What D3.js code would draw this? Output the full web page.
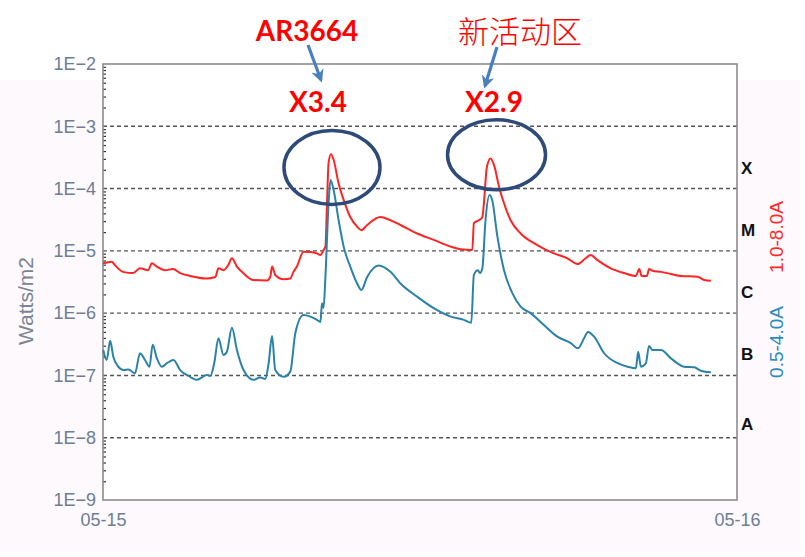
<!DOCTYPE html>
<html>
<head>
<meta charset="utf-8">
<script src="https://cdn.jsdelivr.net/npm/d3@7/dist/d3.min.js"></script>
<style>
  html, body { margin: 0; padding: 0; background: #ffffff; }
  svg { display: block; }
</style>
</head>
<body>
<svg id="chart" width="805" height="557"></svg>
<script>
// ---------- data (hours after 05-15 00:00, flux in W/m2) ----------
const xTickLabels = ["05-15", "05-16"];
const xTickHours = [0, 24];
const yTickValues = [1e-9, 1e-8, 1e-7, 1e-6, 1e-5, 1e-4, 1e-3, 1e-2];
const yTickLabels = ["1E−9", "1E−8", "1E−7", "1E−6", "1E−5", "1E−4", "1E−3", "1E−2"];
const classLabels = ["A", "B", "C", "M", "X"];
const classLevels = [1e-8, 1e-7, 1e-6, 1e-5, 1e-4];
const seriesNames = ["1.0-8.0A", "0.5-4.0A"];

const redHours = [0.0, 0.33, 0.45, 0.76, 1.14, 1.40, 1.71, 1.85, 2.04, 2.35, 2.65, 2.92, 3.30, 3.93, 4.25, 4.37, 4.56, 4.74, 4.88, 5.07, 5.31, 5.69, 6.21, 6.33, 6.40, 6.52, 6.84, 7.09, 7.21, 7.34, 7.59, 7.85, 8.10, 8.23, 8.35, 8.42, 8.48, 8.54, 8.63, 8.73, 8.92, 9.11, 9.36, 9.62, 9.78, 10.00, 10.50, 10.88, 11.26, 11.89, 12.52, 13.16, 13.54, 13.98, 14.04, 14.23, 14.36, 14.42, 14.53, 14.67, 14.82, 14.99, 15.18, 15.43, 15.81, 16.44, 17.07, 17.58, 17.96, 18.27, 18.46, 18.72, 19.22, 19.73, 20.17, 20.30, 20.39, 20.59, 20.67, 20.80, 21.12, 21.50, 21.88, 22.51, 22.76, 23.01];
const redFlux = [6.3e-6, 6.7e-6, 5.9e-6, 4.6e-6, 4.4e-6, 5.25e-6, 4.9e-6, 6.3e-6, 5.6e-6, 4.9e-6, 5.1e-6, 4.4e-6, 3.95e-6, 3.6e-6, 3.8e-6, 5.25e-6, 4.9e-6, 5.9e-6, 7.6e-6, 5.6e-6, 4.4e-6, 3.4e-6, 3.35e-6, 3.8e-6, 5.6e-6, 4.1e-6, 3.5e-6, 3.6e-6, 4.6e-6, 5.6e-6, 9.7e-6, 9.6e-6, 9.1e-6, 8.6e-6, 1.03e-5, 1.17e-5, 5.9e-5, 2.6e-4, 3.55e-4, 2.9e-4, 1.2e-4, 6.6e-5, 3.5e-5, 2.45e-5, 2.15e-5, 2.6e-5, 3.5e-5, 3.1e-5, 2.6e-5, 1.9e-5, 1.5e-5, 1.17e-5, 1.06e-5, 1.03e-5, 2.8e-5, 3.1e-5, 3.45e-5, 5.9e-5, 2.2e-4, 3.05e-4, 2.25e-4, 1.07e-4, 5.8e-5, 3.1e-5, 1.9e-5, 1.24e-5, 9.1e-6, 7.6e-6, 6.15e-6, 7.6e-6, 8.6e-6, 7.1e-6, 5.25e-6, 4.4e-6, 3.95e-6, 5.1e-6, 3.95e-6, 3.95e-6, 5.1e-6, 4.8e-6, 4.6e-6, 4.25e-6, 3.95e-6, 3.85e-6, 3.4e-6, 3.3e-6];

const blueHours = [0.01, 0.14, 0.27, 0.39, 0.58, 0.77, 0.96, 1.21, 1.40, 1.59, 1.76, 1.88, 2.04, 2.23, 2.42, 2.67, 2.92, 3.30, 3.55, 3.93, 4.06, 4.21, 4.37, 4.56, 4.69, 4.88, 5.07, 5.32, 5.70, 5.95, 6.14, 6.27, 6.40, 6.52, 6.84, 7.09, 7.28, 7.59, 7.85, 8.10, 8.23, 8.29, 8.35, 8.42, 8.54, 8.61, 8.73, 8.92, 9.11, 9.36, 9.62, 9.78, 10.00, 10.44, 10.88, 11.26, 11.89, 12.52, 13.16, 13.66, 13.94, 14.04, 14.19, 14.27, 14.36, 14.48, 14.63, 14.73, 14.93, 15.18, 15.50, 15.81, 16.19, 16.69, 17.20, 17.71, 17.98, 18.21, 18.36, 18.59, 18.97, 19.48, 19.86, 20.17, 20.26, 20.36, 20.55, 20.67, 20.80, 21.12, 21.50, 22.00, 22.38, 22.63, 23.01];
const blueFlux = [2.56e-7, 1.77e-7, 3.6e-7, 2.0e-7, 1.38e-7, 1.22e-7, 1.25e-7, 1.08e-7, 2.27e-7, 1.77e-7, 1.38e-7, 3.1e-7, 1.88e-7, 1.38e-7, 1.57e-7, 1.77e-7, 1.22e-7, 9.5e-8, 8.5e-8, 1.02e-7, 9.8e-8, 1.57e-7, 3.95e-7, 2.13e-7, 2.4e-7, 5.85e-7, 2.56e-7, 1.22e-7, 8.5e-8, 9.3e-8, 8.8e-8, 1.57e-7, 4.3e-7, 1.22e-7, 9.5e-8, 1.15e-7, 4.75e-7, 9.3e-7, 8.8e-7, 7.8e-7, 7.2e-7, 1.44e-6, 1.21e-6, 3.85e-6, 5.9e-5, 1.37e-4, 9.5e-5, 3.1e-5, 1.17e-5, 5.6e-6, 3.0e-6, 2.35e-6, 3.8e-6, 5.8e-6, 4.6e-6, 3.0e-6, 1.84e-6, 1.2e-6, 8.8e-7, 7.8e-7, 7.0e-7, 4.1e-6, 4.9e-6, 4.4e-6, 5.25e-6, 3.1e-5, 7.9e-5, 6.6e-5, 1.69e-5, 4.9e-6, 2.08e-6, 1.27e-6, 1.0e-6, 6.45e-7, 4.2e-7, 3.3e-7, 2.73e-7, 3.95e-7, 5.0e-7, 4.2e-7, 2.27e-7, 1.57e-7, 1.38e-7, 1.3e-7, 2.4e-7, 1.38e-7, 1.57e-7, 2.97e-7, 2.56e-7, 2.56e-7, 1.88e-7, 1.38e-7, 1.35e-7, 1.19e-7, 1.12e-7];

// annotations
const flareNames = ["AR3664", "新活动区"];
const flareLabels = ["X3.4", "X2.9"];
const flarePeakHours = [8.63, 14.67];
const flarePeakFlux = [3.4e-4, 2.9e-4];

// ---------- drawing ----------
const W = 805, H = 557;
const margin = { left: 103, right: 68, top: 64, bottom: 57 };
const svg = d3.select("#chart");

// background
svg.append("rect").attr("x", 0).attr("y", 0).attr("width", W).attr("height", H).attr("fill", "#ffffff");
svg.append("rect").attr("x", 0).attr("y", 80).attr("width", 801).attr("height", 472).attr("fill", "#fdf9fc");

const x = d3.scaleLinear().domain([0, 24]).range([margin.left, W - margin.right]);
const y = d3.scaleLog().domain([1e-9, 1e-2]).range([H - margin.bottom, margin.top]);

// plot area
svg.append("rect")
  .attr("x", x(0)).attr("y", y(1e-2))
  .attr("width", x(24) - x(0)).attr("height", y(1e-9) - y(1e-2))
  .attr("fill", "#ffffff");

// grid lines
svg.append("g").selectAll("line")
  .data(yTickValues.filter(v => v > 1e-9 && v < 1e-2))
  .join("line")
  .attr("x1", x(0)).attr("x2", x(24))
  .attr("y1", d => y(d)).attr("y2", d => y(d))
  .attr("stroke", "#555555").attr("stroke-width", 1.4)
  .attr("stroke-dasharray", "4,3");

// minor ticks on left edge (inside)
const minorTicks = [];
for (let e = -9; e < -2; e++) for (let m = 2; m <= 9; m++) minorTicks.push(m * Math.pow(10, e));
const minorAxis = d3.axisRight(y).tickValues(minorTicks).tickSize(3).tickFormat("");
const gMinor = svg.append("g").attr("transform", `translate(${x(0)},0)`).call(minorAxis);
gMinor.select(".domain").remove();
gMinor.selectAll("line").attr("stroke", "#333").attr("stroke-width", 1.2);

// left axis labels
const yAxis = d3.axisLeft(y).tickValues(yTickValues)
  .tickFormat((d, i) => yTickLabels[i]).tickSize(0).tickPadding(7);
const gY = svg.append("g").attr("transform", `translate(${x(0)},0)`).call(yAxis);
gY.select(".domain").remove();
gY.selectAll("text").attr("fill", "#6b7e96")
  .style("font-family", "'Liberation Sans', Arial, sans-serif").style("font-size", "18px");

// bottom axis labels
const xAxis = d3.axisBottom(x).tickValues(xTickHours)
  .tickFormat((d, i) => xTickLabels[i]).tickSize(0).tickPadding(13);
const gX = svg.append("g").attr("transform", `translate(0,${y(1e-9)})`).call(xAxis);
gX.select(".domain").remove();
gX.selectAll("text").attr("fill", "#6b7e96")
  .style("font-family", "'Liberation Sans', Arial, sans-serif").style("font-size", "18px");

// frame
svg.append("rect")
  .attr("x", x(0)).attr("y", y(1e-2))
  .attr("width", x(24) - x(0)).attr("height", y(1e-9) - y(1e-2))
  .attr("fill", "none").attr("stroke", "#8c8c8c").attr("stroke-width", 1.6);

// series lines
const lineGen = d3.line().x(d => x(d[0])).y(d => y(d[1])).curve(d3.curveMonotoneX);
const redData = redHours.map((h, i) => [h, redFlux[i]]);
const blueData = blueHours.map((h, i) => [h, blueFlux[i]]);
svg.append("path").datum(redData).attr("d", lineGen)
  .attr("fill", "none").attr("stroke", "#ff2424").attr("stroke-width", 2).attr("stroke-linejoin", "round");
svg.append("path").datum(blueData).attr("d", lineGen)
  .attr("fill", "none").attr("stroke", "#2a82a8").attr("stroke-width", 2).attr("stroke-linejoin", "round");

// class labels on right
svg.append("g").selectAll("text")
  .data(classLabels)
  .join("text")
  .attr("x", x(24) + 4)
  .attr("y", (d, i) => y(classLevels[i]) - (i === 0 ? 14 : 21))
  .attr("dy", "0.35em")
  .attr("fill", "#111")
  .style("font-family", "'Liberation Sans', Arial, sans-serif")
  .style("font-size", "17px").style("font-weight", "bold")
  .text(d => d);

// series names, rotated
const seriesColors = ["#ff2a2a", "#2a8ac0"];
const seriesCenters = [237, 342];
seriesNames.forEach((name, i) => {
  svg.append("text")
    .attr("transform", `translate(783,${seriesCenters[i]}) rotate(-90)`)
    .attr("text-anchor", "middle")
    .attr("fill", seriesColors[i])
    .style("font-family", "'Liberation Sans', Arial, sans-serif")
    .style("font-size", "19px")
    .text(name);
});

// y axis title
svg.append("text")
  .attr("transform", `translate(33,301) rotate(-90)`)
  .attr("text-anchor", "middle")
  .attr("fill", "#7a8494")
  .style("font-family", "'Liberation Sans', Arial, sans-serif")
  .style("font-size", "21px")
  .text("Watts/m2");

// ellipses around the peaks
const ellipseR = [[48, 37], [49, 35]];
const ellipseDy = [12, -5];
flarePeakHours.forEach((h, i) => {
  svg.append("ellipse")
    .attr("cx", x(h) + (i === 0 ? 1 : 6))
    .attr("cy", y(flarePeakFlux[i]) + ellipseDy[i])
    .attr("rx", ellipseR[i][0]).attr("ry", ellipseR[i][1])
    .attr("fill", "none").attr("stroke", "#2e4a78").attr("stroke-width", 3.5);
});

// arrows
const defs = svg.append("defs");
defs.append("marker").attr("id", "ah").attr("viewBox", "0 0 10 10")
  .attr("refX", 8).attr("refY", 5).attr("markerWidth", 4).attr("markerHeight", 4)
  .attr("orient", "auto")
  .append("path").attr("d", "M0,0 L10,5 L0,10 L3,5 Z").attr("fill", "#4a7fbf");

const arrows = [[308, 45, 321, 80], [497, 47, 485, 86]];
arrows.forEach(a => {
  svg.append("line").attr("x1", a[0]).attr("y1", a[1]).attr("x2", a[2]).attr("y2", a[3])
    .attr("stroke", "#4a7fbf").attr("stroke-width", 3.2).attr("marker-end", "url(#ah)");
});

// annotation texts
svg.append("text").attr("x", 307).attr("y", 41).attr("text-anchor", "middle")
  .attr("fill", "#ff0000").style("font-family", "Lato, 'Open Sans', sans-serif")
  .style("font-weight", "bold").style("font-size", "28px").text(flareNames[0]);
svg.append("text").attr("x", 520).attr("y", 43).attr("text-anchor", "middle")
  .attr("fill", "#ff0000").style("font-family", "'Noto Sans CJK SC', sans-serif")
  .style("font-weight", "300").style("font-size", "31px").text(flareNames[1]);
const labelX = [318, 494];
flareLabels.forEach((t, i) => {
  svg.append("text").attr("x", labelX[i]).attr("y", 112).attr("text-anchor", "middle")
    .attr("fill", "#ff0000").style("font-family", "Lato, 'Open Sans', sans-serif")
    .style("font-weight", "bold").style("font-size", "28px").text(t);
});
</script>
</body>
</html>
